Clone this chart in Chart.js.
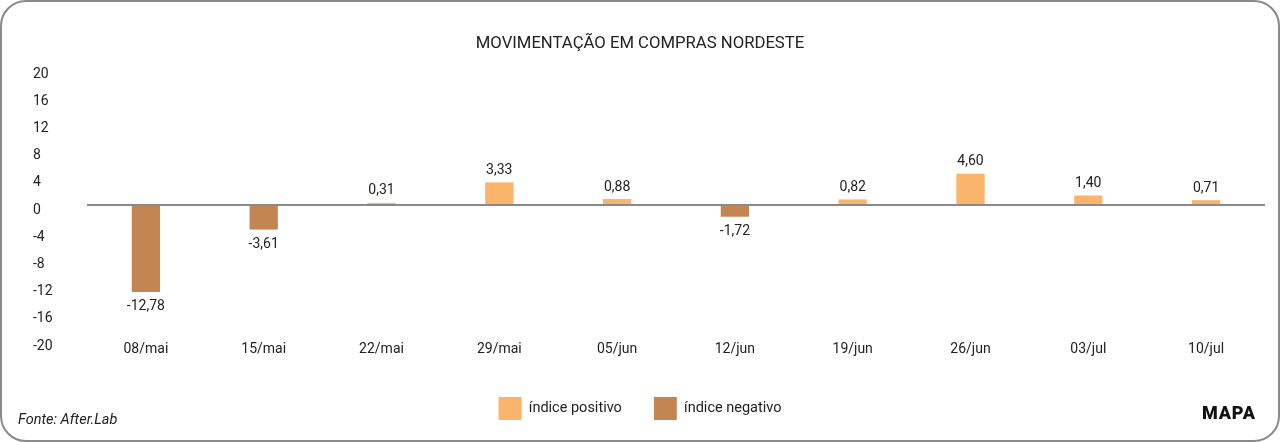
<!DOCTYPE html>
<html>
<head>
<title>Movimentação em compras Nordeste</title>
<style>
  body { margin: 0; background: #fff; }
  #box { position: absolute; left: 0; top: 0; width: 1276px; height: 438px;
         border: 2px solid #8a8a8a; border-radius: 26px; pointer-events: none; }
  #chartWrap { position: absolute; left: 0; top: 0; width: 1280px; height: 442px; }
  #fonte { position: absolute; left: 18px; top: 411px; font: italic 14.5px Roboto, sans-serif; color: #222; }
  #mapa { position: absolute; left: 1202px; top: 402px; font: 900 18px Roboto, sans-serif; color: #111; letter-spacing: 0.8px; }
</style>
</head>
<body>
<div id="chartWrap"><canvas id="chartNordeste" width="1280" height="442"></canvas></div>
<div id="box"></div>
<div id="fonte">Fonte: After.Lab</div>
<div id="mapa">MAPA</div>
<script src="https://cdn.jsdelivr.net/npm/chart.js@4.4.0/dist/chart.umd.min.js"></script>
<script>
// dados
const semanas = ['08/mai', '15/mai', '22/mai', '29/mai', '05/jun', '12/jun', '19/jun', '26/jun', '03/jul', '10/jul'];
const indicePositivo = [null, null, 0.31, 3.33, 0.88, null, 0.82, 4.60, 1.40, 0.71];
const indiceNegativo = [-12.78, -3.61, null, null, null, -1.72, null, null, null, null];
const ticksY = [20, 16, 12, 8, 4, 0, -4, -8, -12, -16, -20];

const corPositivo = '#fbb46c';
const corNegativo = '#c38552';

// rotulos de valor em cima / embaixo das barras
const rotulos = {
  id: 'rotulos',
  afterDatasetsDraw(chart) {
    const ctx = chart.ctx;
    ctx.save();
    ctx.font = '14px Roboto, sans-serif';
    ctx.fillStyle = '#222';
    ctx.textAlign = 'center';
    chart.data.datasets.forEach(function(ds, i) {
      chart.getDatasetMeta(i).data.forEach(function(bar, j) {
        const v = ds.data[j];
        if (v === null) return;
        const txt = v.toFixed(2).replace('.', ',');
        if (v >= 0) {
          ctx.textBaseline = 'bottom';
          ctx.fillText(txt, bar.x, bar.y - 5);
        } else {
          ctx.textBaseline = 'top';
          ctx.fillText(txt, bar.x, bar.y + 8);
        }
      });
    });
    ctx.restore();
  }
};

// titulo e legenda centrados no canvas inteiro e nao so entre os paddings
const centraliza = {
  id: 'centraliza',
  afterLayout(chart) {
    [chart.legend, chart.titleBlock].forEach(function(b) {
      if (!b) return;
      const desvio = (b.left + b.right) / 2 - chart.width / 2;
      b.left -= desvio;
      b.right -= desvio;
    });
  }
};

const config = {
  type: 'bar',
  data: {
    labels: semanas,
    datasets: [{
      label: 'índice positivo',
      data: indicePositivo,
      backgroundColor: corPositivo
    }, {
      label: 'índice negativo',
      data: indiceNegativo,
      backgroundColor: corNegativo
    }]
  },
  options: {
    responsive: false,
    animation: false,
    barPercentage: 0.24,
    categoryPercentage: 1,
    layout: { padding: { top: 0, left: 33, right: 15, bottom: 12 } },
    plugins: {
      title: {
        display: true,
        text: 'MOVIMENTAÇÃO EM COMPRAS NORDESTE',
        color: '#222',
        font: { family: 'Roboto', size: 16.7, weight: 'normal' },
        padding: { top: 34, bottom: 15 }
      },
      legend: {
        position: 'bottom',
        labels: {
          color: '#222',
          font: { family: 'Roboto', size: 14.5 },
          boxWidth: 23,
          boxHeight: 23,
          padding: 32
        }
      },
      tooltip: { enabled: false }
    },
    scales: {
      x: {
        stacked: true,
        grid: { display: false, drawTicks: false },
        border: { display: false },
        ticks: { color: '#222', font: { family: 'Roboto', size: 14 }, padding: 0 },
        afterFit(scale) { scale.height = 24; }
      },
      y: {
        stacked: true,
        min: -20,
        max: 20,
        border: { display: false },
        grid: {
          drawTicks: false,
          lineWidth: 2,
          color: function(c) { return c.tick && c.tick.value === 0 ? '#8a8a8a' : 'rgba(0,0,0,0)'; }
        },
        afterBuildTicks(scale) { scale.ticks = ticksY.map(function(v) { return { value: v }; }); },
        ticks: {
          color: '#222',
          font: { family: 'Roboto', size: 14 },
          crossAlign: 'far',
          labelOffset: 5,
          callback: function(v) { return String(v); }
        },
        afterFit(scale) { scale.width = 54; }
      }
    }
  },
  plugins: [rotulos, centraliza]
};

new Chart(document.getElementById('chartNordeste').getContext('2d'), config);
</script>
</body>
</html>
